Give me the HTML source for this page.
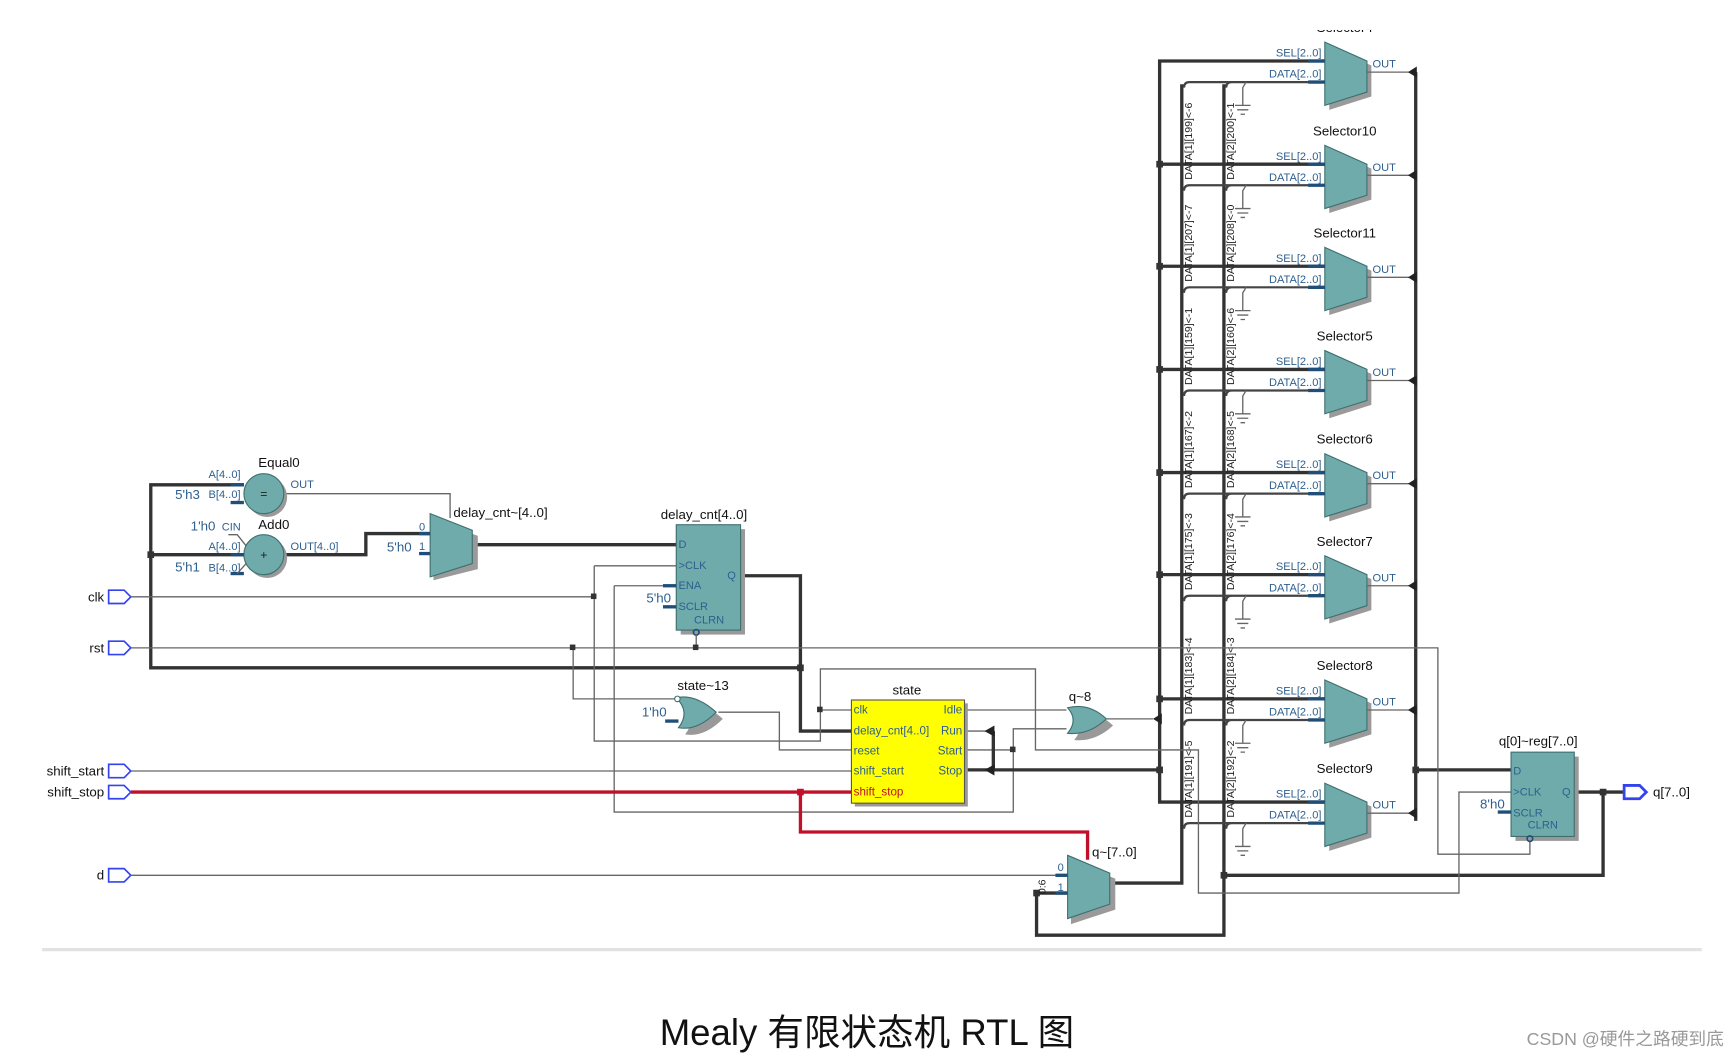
<!DOCTYPE html>
<html><head><meta charset="utf-8"><style>
html,body{margin:0;padding:0;background:#fff;width:1735px;height:1055px;overflow:hidden}
svg{display:block}
text{font-family:"Liberation Sans","Noto Sans CJK SC",sans-serif}
.w{stroke:#333;stroke-width:3;fill:none}
.t{stroke:#666;stroke-width:1.2;fill:none}
.m{stroke:#444;stroke-width:2;fill:none}
.r{stroke:#c0102a;stroke-width:3;fill:none}
.b{fill:#2e5f8f;font-size:10px}
.n{fill:#111;font-size:12px}
.s{fill:#1f4e79;stroke:#1f4e79;stroke-width:3}
.tl{fill:#6fabab;stroke:#3d6f6f;stroke-width:1}
.sh{fill:#9a9a9a}
.dl{fill:#222;font-size:9.5px}
</style></head><body>
<svg width="1735" height="1055" viewBox="0 0 1565 951" preserveAspectRatio="none" xmlns="http://www.w3.org/2000/svg">
<path class="w" d="M1195,55 L1046,55 L1046,723 L1195,723"/>
<path class="w" d="M1066,76 L1066,796 L999,796"/>
<path class="w" d="M1104,76 L1104,843 L935,843 L935,805 L963,805"/>
<path class="w" d="M1277,65 L1277,740"/>
<path class="w" d="M1277,694 L1363,694"/>
<path class="w" d="M1420,714 L1465,714"/>
<path class="w" d="M1446,714 L1446,789 L1104,789"/>
<g fill="#333"><rect x="1443" y="711" width="6" height="6"/><rect x="1101" y="786" width="6" height="6"/><rect x="1274" y="691" width="6" height="6"/></g>

<g transform="translate(0,55)"><text class="n" x="1213" y="-26" text-anchor="middle">Selector4</text>
<polygon class="sh" points="1199,-13 1237,4 1237,32 1199,44"/><polygon class="tl" points="1195,-17 1233,0 1233,28 1195,40"/>
<text class="b" x="1192" y="-4" text-anchor="end">SEL[2..0]</text><line class="s" x1="1180" y1="0" x2="1195" y2="0"/>
<path class="m" d="M1068,24 Q1068,19 1073,19 L1195,19 M1106,24 Q1106,19 1111,19"/><text class="b" x="1192" y="15" text-anchor="end">DATA[2..0]</text><line class="s" x1="1180" y1="19" x2="1195" y2="19"/>
<path class="t" d="M1124,19 L1121,24 L1121,40 M1114,40 L1128,40 M1116,44 L1126,44 M1119,48 L1123,48"/>
<text class="b" x="1238" y="6">OUT</text><line class="t" x1="1233" y1="10" x2="1272" y2="10"/><polygon points="1270,10 1278,5 1278,15" fill="#222"/></g>
<g transform="translate(0,148)"><text class="n" x="1213" y="-26" text-anchor="middle">Selector10</text>
<polygon class="sh" points="1199,-13 1237,4 1237,32 1199,44"/><polygon class="tl" points="1195,-17 1233,0 1233,28 1195,40"/>
<line class="w" x1="1046" y1="0" x2="1195" y2="0"/><rect x="1043" y="-3" width="6" height="6" fill="#333"/>
<text class="b" x="1192" y="-4" text-anchor="end">SEL[2..0]</text><line class="s" x1="1180" y1="0" x2="1195" y2="0"/>
<path class="m" d="M1068,24 Q1068,19 1073,19 L1195,19 M1106,24 Q1106,19 1111,19"/><text class="b" x="1192" y="15" text-anchor="end">DATA[2..0]</text><line class="s" x1="1180" y1="19" x2="1195" y2="19"/>
<path class="t" d="M1124,19 L1121,24 L1121,40 M1114,40 L1128,40 M1116,44 L1126,44 M1119,48 L1123,48"/>
<text class="b" x="1238" y="6">OUT</text><line class="t" x1="1233" y1="10" x2="1272" y2="10"/><polygon points="1270,10 1278,5 1278,15" fill="#222"/></g>
<g transform="translate(0,240)"><text class="n" x="1213" y="-26" text-anchor="middle">Selector11</text>
<polygon class="sh" points="1199,-13 1237,4 1237,32 1199,44"/><polygon class="tl" points="1195,-17 1233,0 1233,28 1195,40"/>
<line class="w" x1="1046" y1="0" x2="1195" y2="0"/><rect x="1043" y="-3" width="6" height="6" fill="#333"/>
<text class="b" x="1192" y="-4" text-anchor="end">SEL[2..0]</text><line class="s" x1="1180" y1="0" x2="1195" y2="0"/>
<path class="m" d="M1068,24 Q1068,19 1073,19 L1195,19 M1106,24 Q1106,19 1111,19"/><text class="b" x="1192" y="15" text-anchor="end">DATA[2..0]</text><line class="s" x1="1180" y1="19" x2="1195" y2="19"/>
<path class="t" d="M1124,19 L1121,24 L1121,40 M1114,40 L1128,40 M1116,44 L1126,44 M1119,48 L1123,48"/>
<text class="b" x="1238" y="6">OUT</text><line class="t" x1="1233" y1="10" x2="1272" y2="10"/><polygon points="1270,10 1278,5 1278,15" fill="#222"/></g>
<g transform="translate(0,333)"><text class="n" x="1213" y="-26" text-anchor="middle">Selector5</text>
<polygon class="sh" points="1199,-13 1237,4 1237,32 1199,44"/><polygon class="tl" points="1195,-17 1233,0 1233,28 1195,40"/>
<line class="w" x1="1046" y1="0" x2="1195" y2="0"/><rect x="1043" y="-3" width="6" height="6" fill="#333"/>
<text class="b" x="1192" y="-4" text-anchor="end">SEL[2..0]</text><line class="s" x1="1180" y1="0" x2="1195" y2="0"/>
<path class="m" d="M1068,24 Q1068,19 1073,19 L1195,19 M1106,24 Q1106,19 1111,19"/><text class="b" x="1192" y="15" text-anchor="end">DATA[2..0]</text><line class="s" x1="1180" y1="19" x2="1195" y2="19"/>
<path class="t" d="M1124,19 L1121,24 L1121,40 M1114,40 L1128,40 M1116,44 L1126,44 M1119,48 L1123,48"/>
<text class="b" x="1238" y="6">OUT</text><line class="t" x1="1233" y1="10" x2="1272" y2="10"/><polygon points="1270,10 1278,5 1278,15" fill="#222"/></g>
<g transform="translate(0,426)"><text class="n" x="1213" y="-26" text-anchor="middle">Selector6</text>
<polygon class="sh" points="1199,-13 1237,4 1237,32 1199,44"/><polygon class="tl" points="1195,-17 1233,0 1233,28 1195,40"/>
<line class="w" x1="1046" y1="0" x2="1195" y2="0"/><rect x="1043" y="-3" width="6" height="6" fill="#333"/>
<text class="b" x="1192" y="-4" text-anchor="end">SEL[2..0]</text><line class="s" x1="1180" y1="0" x2="1195" y2="0"/>
<path class="m" d="M1068,24 Q1068,19 1073,19 L1195,19 M1106,24 Q1106,19 1111,19"/><text class="b" x="1192" y="15" text-anchor="end">DATA[2..0]</text><line class="s" x1="1180" y1="19" x2="1195" y2="19"/>
<path class="t" d="M1124,19 L1121,24 L1121,40 M1114,40 L1128,40 M1116,44 L1126,44 M1119,48 L1123,48"/>
<text class="b" x="1238" y="6">OUT</text><line class="t" x1="1233" y1="10" x2="1272" y2="10"/><polygon points="1270,10 1278,5 1278,15" fill="#222"/></g>
<g transform="translate(0,518)"><text class="n" x="1213" y="-26" text-anchor="middle">Selector7</text>
<polygon class="sh" points="1199,-13 1237,4 1237,32 1199,44"/><polygon class="tl" points="1195,-17 1233,0 1233,28 1195,40"/>
<line class="w" x1="1046" y1="0" x2="1195" y2="0"/><rect x="1043" y="-3" width="6" height="6" fill="#333"/>
<text class="b" x="1192" y="-4" text-anchor="end">SEL[2..0]</text><line class="s" x1="1180" y1="0" x2="1195" y2="0"/>
<path class="m" d="M1068,24 Q1068,19 1073,19 L1195,19 M1106,24 Q1106,19 1111,19"/><text class="b" x="1192" y="15" text-anchor="end">DATA[2..0]</text><line class="s" x1="1180" y1="19" x2="1195" y2="19"/>
<path class="t" d="M1124,19 L1121,24 L1121,40 M1114,40 L1128,40 M1116,44 L1126,44 M1119,48 L1123,48"/>
<text class="b" x="1238" y="6">OUT</text><line class="t" x1="1233" y1="10" x2="1272" y2="10"/><polygon points="1270,10 1278,5 1278,15" fill="#222"/></g>
<g transform="translate(0,630)"><text class="n" x="1213" y="-26" text-anchor="middle">Selector8</text>
<polygon class="sh" points="1199,-13 1237,4 1237,32 1199,44"/><polygon class="tl" points="1195,-17 1233,0 1233,28 1195,40"/>
<line class="w" x1="1046" y1="0" x2="1195" y2="0"/><rect x="1043" y="-3" width="6" height="6" fill="#333"/>
<text class="b" x="1192" y="-4" text-anchor="end">SEL[2..0]</text><line class="s" x1="1180" y1="0" x2="1195" y2="0"/>
<path class="m" d="M1068,24 Q1068,19 1073,19 L1195,19 M1106,24 Q1106,19 1111,19"/><text class="b" x="1192" y="15" text-anchor="end">DATA[2..0]</text><line class="s" x1="1180" y1="19" x2="1195" y2="19"/>
<path class="t" d="M1124,19 L1121,24 L1121,40 M1114,40 L1128,40 M1116,44 L1126,44 M1119,48 L1123,48"/>
<text class="b" x="1238" y="6">OUT</text><line class="t" x1="1233" y1="10" x2="1272" y2="10"/><polygon points="1270,10 1278,5 1278,15" fill="#222"/></g>
<g transform="translate(0,723)"><text class="n" x="1213" y="-26" text-anchor="middle">Selector9</text>
<polygon class="sh" points="1199,-13 1237,4 1237,32 1199,44"/><polygon class="tl" points="1195,-17 1233,0 1233,28 1195,40"/>
<text class="b" x="1192" y="-4" text-anchor="end">SEL[2..0]</text><line class="s" x1="1180" y1="0" x2="1195" y2="0"/>
<path class="m" d="M1068,24 Q1068,19 1073,19 L1195,19 M1106,24 Q1106,19 1111,19"/><text class="b" x="1192" y="15" text-anchor="end">DATA[2..0]</text><line class="s" x1="1180" y1="19" x2="1195" y2="19"/>
<path class="t" d="M1124,19 L1121,24 L1121,40 M1114,40 L1128,40 M1116,44 L1126,44 M1119,48 L1123,48"/>
<text class="b" x="1238" y="6">OUT</text><line class="t" x1="1233" y1="10" x2="1272" y2="10"/><polygon points="1270,10 1278,5 1278,15" fill="#222"/></g>
<rect x="0" y="0" width="1565" height="27" fill="#fff"/>

<g class="dl">
<text transform="translate(1075,162) rotate(-90)">DATA[1][199]&lt;-6</text>
<text transform="translate(1113,162) rotate(-90)">DATA[2][200]&lt;-1</text>
<text transform="translate(1075,254) rotate(-90)">DATA[1][207]&lt;-7</text>
<text transform="translate(1113,254) rotate(-90)">DATA[2][208]&lt;-0</text>
<text transform="translate(1075,347) rotate(-90)">DATA[1][159]&lt;-1</text>
<text transform="translate(1113,347) rotate(-90)">DATA[2][160]&lt;-6</text>
<text transform="translate(1075,440) rotate(-90)">DATA[1][167]&lt;-2</text>
<text transform="translate(1113,440) rotate(-90)">DATA[2][168]&lt;-5</text>
<text transform="translate(1075,532) rotate(-90)">DATA[1][175]&lt;-3</text>
<text transform="translate(1113,532) rotate(-90)">DATA[2][176]&lt;-4</text>
<text transform="translate(1075,644) rotate(-90)">DATA[1][183]&lt;-4</text>
<text transform="translate(1113,644) rotate(-90)">DATA[2][184]&lt;-3</text>
<text transform="translate(1075,737) rotate(-90)">DATA[1][191]&lt;-5</text>
<text transform="translate(1113,737) rotate(-90)">DATA[2][192]&lt;-2</text>
</g>

<path class="w" d="M220,437 L136,437 L136,602 L722,602 M136,500 L220,500"/>
<rect x="133" y="497" width="6" height="6" fill="#333"/>
<path class="w" d="M668,519 L722,519 L722,659 L768,659"/>
<rect x="719" y="599" width="6" height="6" fill="#333"/>
<path class="w" d="M256,500 L330,500 L330,481 L388,481"/>
<path class="t" d="M256,445 L406,445 L406,467"/>
<path class="w" d="M428,491 L610,491"/>
<circle cx="241" cy="448" r="18" fill="#999"/><circle cx="238" cy="445" r="18" class="tl"/>
<text x="238" y="449" font-size="11" text-anchor="middle" fill="#222">=</text>
<circle cx="241" cy="503" r="18" fill="#999"/><circle cx="238" cy="500" r="18" class="tl"/>
<text x="238" y="504" font-size="11" text-anchor="middle" fill="#222">+</text>
<text class="n" x="233" y="421">Equal0</text>
<text class="n" x="233" y="477">Add0</text>
<text class="b" x="217" y="431" text-anchor="end">A[4..0]</text>
<text class="b" x="217" y="449" text-anchor="end">B[4..0]</text>
<text x="158" y="450" font-size="12" fill="#2e5f8f">5'h3</text>
<text x="172" y="478" font-size="12" fill="#2e5f8f">1'h0</text><text class="b" x="200" y="478">CIN</text>
<text class="b" x="217" y="496" text-anchor="end">A[4..0]</text>
<text class="b" x="217" y="515" text-anchor="end">B[4..0]</text>
<text x="158" y="515" font-size="12" fill="#2e5f8f">5'h1</text>
<text class="b" x="262" y="440">OUT</text>
<text class="b" x="262" y="496">OUT[4..0]</text>
<line class="s" x1="208" y1="437" x2="220" y2="437"/><line class="s" x1="208" y1="453" x2="220" y2="453"/>
<line class="s" x1="208" y1="500" x2="220" y2="500"/><line class="s" x1="208" y1="517" x2="220" y2="517"/>
<path class="t" d="M206,482 L214,482 L222,492 M214,517 L222,508"/>
<polygon class="sh" points="391,468 431,483 431,513 391,523"/>
<polygon class="tl" points="388,463 426,478 426,508 388,520"/>
<text class="n" x="409" y="466">delay_cnt~[4..0]</text>
<text class="b" x="378" y="478">0</text><text class="b" x="378" y="496">1</text>
<text x="349" y="497" font-size="12" fill="#2e5f8f">5'h0</text>
<line class="s" x1="378" y1="481" x2="388" y2="481"/><line class="s" x1="378" y1="499" x2="388" y2="499"/>
<rect x="614" y="477" width="58" height="95" fill="#999"/>
<rect x="610" y="473" width="58" height="95" class="tl"/>
<text class="n" x="596" y="468">delay_cnt[4..0]</text>
<g class="b" font-size="10.5"><text x="612" y="494">D</text><text x="612" y="513">&gt;CLK</text><text x="612" y="531">ENA</text><text x="612" y="550">SCLR</text><text x="626" y="562">CLRN</text><text x="656" y="522">Q</text></g>
<text x="583" y="543" font-size="12" fill="#2e5f8f">5'h0</text>
<line class="s" x1="598" y1="528" x2="610" y2="528"/><line class="s" x1="598" y1="547" x2="610" y2="547"/>
<circle cx="628" cy="570" r="2.5" fill="none" stroke="#1f4e79" stroke-width="1.5"/>

<g fill="#fff" stroke="#3344ee" stroke-width="1.5">
<path d="M98,532 L112,532 L118,538 L112,544 L98,544 Z"/>
<path d="M98,578 L112,578 L118,584 L112,590 L98,590 Z"/>
<path d="M98,689 L112,689 L118,695 L112,701 L98,701 Z"/>
<path d="M98,708 L112,708 L118,714 L112,720 L98,720 Z"/>
<path d="M98,783 L112,783 L118,789 L112,795 L98,795 Z"/>
<path d="M1465,708 L1479,708 L1485,714 L1479,720 L1465,720 Z" stroke-width="2.5"/>
</g>
<g class="n" text-anchor="end"><text x="94" y="542">clk</text><text x="94" y="588">rst</text><text x="94" y="699">shift_start</text><text x="94" y="718">shift_stop</text><text x="94" y="793">d</text></g>
<text class="n" x="1491" y="718">q[7..0]</text>

<path class="t" d="M118,538 L536,538 M536,510 L610,510 M536,510 L536,668 L740,668 L740,603 L934,603 L934,676 L1081,676 L1081,805 L1316,805 L1316,714 L1363,714 M740,640 L768,640"/>
<path class="t" d="M118,584 L1297,584 L1297,770 L1380,770 L1380,757 M517,584 L517,630 L610,630 M628,584 L628,572"/>
<path class="t" d="M554,528 L554,732 L914,732 L914,657 L962,657 M554,528 L598,528"/>
<path class="t" d="M648,642 L703,642 L703,676 L768,676"/>
<path class="t" d="M118,695 L768,695"/>
<path class="t" d="M870,640 L962,640 M870,676 L914,676 M870,659 L893,659"/>
<path class="t" d="M118,789 L938,789 L963,789"/>
<path class="t" d="M998,648 L1040,648"/>
<g fill="#333"><rect x="533" y="535" width="5" height="5"/><rect x="514" y="581" width="5" height="5"/><rect x="625" y="581" width="5" height="5"/><rect x="737" y="637" width="5" height="5"/><rect x="911" y="673" width="5" height="5"/></g>
<polygon points="1040,648 1048,643 1048,653" fill="#222"/>
<path class="w" d="M896,659 L896,694 M870,694 L1046,694"/>
<polygon points="888,659 897,654 897,664" fill="#222"/><polygon points="888,694 897,689 897,699" fill="#222"/>
<rect x="1043" y="691" width="6" height="6" fill="#333"/>
<path class="r" d="M118,714 L768,714 M722,714 L722,750 L981,750 L981,775"/>
<rect x="719" y="711" width="6" height="6" fill="#c0102a"/>

<path d="M613,632 Q630,628 649,645 Q632,662 615,659 Q626,645 613,632 Z" fill="#999" transform="translate(3,3)"/>
<path d="M610,629 Q627,625 646,642 Q629,659 612,656 Q623,642 610,629 Z" class="tl"/>
<circle cx="611" cy="630" r="2.5" fill="#fff" stroke="#3d6f6f"/>
<text class="n" x="611" y="622">state~13</text>
<text x="579" y="646" font-size="12" fill="#2e5f8f">1'h0</text>
<line class="s" x1="600" y1="650" x2="612" y2="650"/>

<rect x="771" y="634" width="102" height="93" fill="#999"/>
<rect x="768" y="631" width="102" height="93" fill="#ffff00" stroke="#555"/>
<text class="n" x="805" y="626">state</text>
<g font-size="10.5" fill="#2e5f8f"><text x="770" y="643">clk</text><text x="770" y="662">delay_cnt[4..0]</text><text x="770" y="680">reset</text><text x="770" y="698">shift_start</text><text x="770" y="717" fill="#c0102a">shift_stop</text>
<text x="868" y="643" text-anchor="end">Idle</text><text x="868" y="662" text-anchor="end">Run</text><text x="868" y="680" text-anchor="end">Start</text><text x="868" y="698" text-anchor="end">Stop</text></g>

<path d="M966,641 Q985,636 1001,651 Q985,666 966,664 Q976,652 966,641 Z" fill="#999" transform="translate(3,3)"/>
<path d="M963,638 Q982,633 998,648 Q982,663 963,661 Q973,649 963,638 Z" class="tl"/>
<text class="n" x="964" y="632">q~8</text>

<polygon class="sh" points="966,776 1006,792 1006,820 966,833"/>
<polygon class="tl" points="963,771 1001,787 1001,815 963,828"/>
<text class="n" x="985" y="772">q~[7..0]</text>
<text class="b" x="954" y="785">0</text><text class="b" x="954" y="803">1</text>
<line class="s" x1="952" y1="789" x2="963" y2="789"/><line class="s" x1="952" y1="805" x2="963" y2="805"/>
<rect x="932" y="802" width="6" height="6" fill="#333"/>
<text class="dl" transform="translate(943,806) rotate(-90)" font-size="8">0:6</text>

<rect x="1367" y="682" width="57" height="76" fill="#999"/>
<rect x="1363" y="678" width="57" height="76" class="tl"/>
<text class="n" x="1352" y="672">q[0]~reg[7..0]</text>
<g class="b" font-size="10.5"><text x="1365" y="698">D</text><text x="1365" y="717">&gt;CLK</text><text x="1365" y="736">SCLR</text><text x="1378" y="747">CLRN</text><text x="1409" y="717">Q</text></g>
<text x="1335" y="729" font-size="12" fill="#2e5f8f">8'h0</text>
<line class="s" x1="1351" y1="732" x2="1363" y2="732"/>
<circle cx="1380" cy="756" r="2.5" fill="none" stroke="#1f4e79" stroke-width="1.5"/>

<line x1="38" y1="856" x2="1535" y2="856" stroke="#e2e2e2" stroke-width="3"/>
<text x="782" y="942" font-size="33" text-anchor="middle" fill="#111">Mealy 有限状态机 RTL 图</text>
<text x="1555" y="942" font-size="16" text-anchor="end" fill="#999">CSDN @硬件之路硬到底</text>
</svg>
</body></html>
